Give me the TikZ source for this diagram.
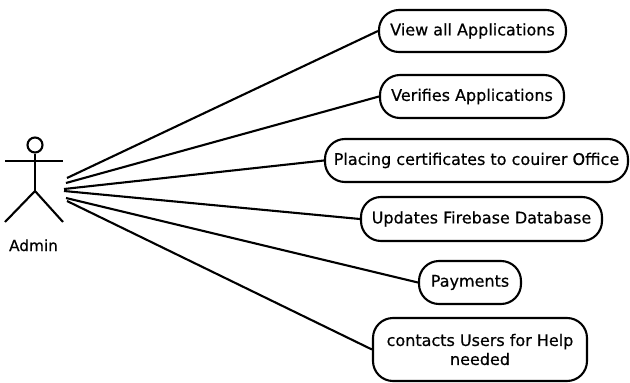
\documentclass[tikz,border=0pt]{standalone}
\usepackage{fontspec}
\setmainfont{DejaVu Sans}[UprightFeatures={FakeBold=0.5}]
\begin{document}
\begin{tikzpicture}[x=1pt,y=-1pt,
  usecase/.style={draw=black, line width=2.1pt, rounded corners=20pt, fill=white,
    inner sep=0pt, align=center, font=\fontsize{16}{19}\selectfont},
  conn/.style={line width=2.1pt},
  stick/.style={line width=2.1pt}]
\useasboundingbox (0,0) rectangle (630,383);
% actor
\node[draw, circle, stick, minimum size=15pt, inner sep=0pt] (head) at (35,145) {};
\coordinate (armL) at (5,161);
\coordinate (armR) at (63,161);
\coordinate (hip) at (35,191);
\coordinate (legL) at (5,222);
\coordinate (legR) at (63,222);
\draw[stick] (armL) -- (armR);
\draw[stick] (head.south) -- (hip);
\draw[stick] (legL) -- (hip) -- (legR);
\node[font=\fontsize{15.3}{18}\selectfont, anchor=base] (admin) at (33.5,251) {Admin};
% connector start points
\coordinate (s1) at (67,178);
\coordinate (s2) at (66,183);
\coordinate (s3) at (64,189);
\coordinate (s4) at (64,191);
\coordinate (s5) at (66,198);
\coordinate (s6) at (67,201);
% use cases
\node[usecase, minimum width=187pt, minimum height=42pt] (u1) at (472.5,31) {View all Applications};
\node[usecase, minimum width=184pt, minimum height=43pt] (u2) at (472,96.5) {Verifies Applications};
\node[usecase, minimum width=303pt, minimum height=43pt] (u3) at (476.5,160.5) {Placing certificates to couirer Office};
\node[usecase, minimum width=241pt, minimum height=44pt] (u4) at (481.5,219) {Updates Firebase Database};
\node[usecase, minimum width=102pt, minimum height=43pt] (u5) at (470,282.5) {Payments};
\node[usecase, minimum width=214pt, minimum height=63pt] (u6) at (480,349.5) {contacts Users for Help\\needed};
% connectors
\draw[conn] (s1) -- (u1.west);
\draw[conn] (s2) -- (u2.west);
\draw[conn] (s3) -- (u3.west);
\draw[conn] (s4) -- (u4.west);
\draw[conn] (s5) -- (u5.west);
\draw[conn] (s6) -- (u6.west);
\end{tikzpicture}
\end{document}
